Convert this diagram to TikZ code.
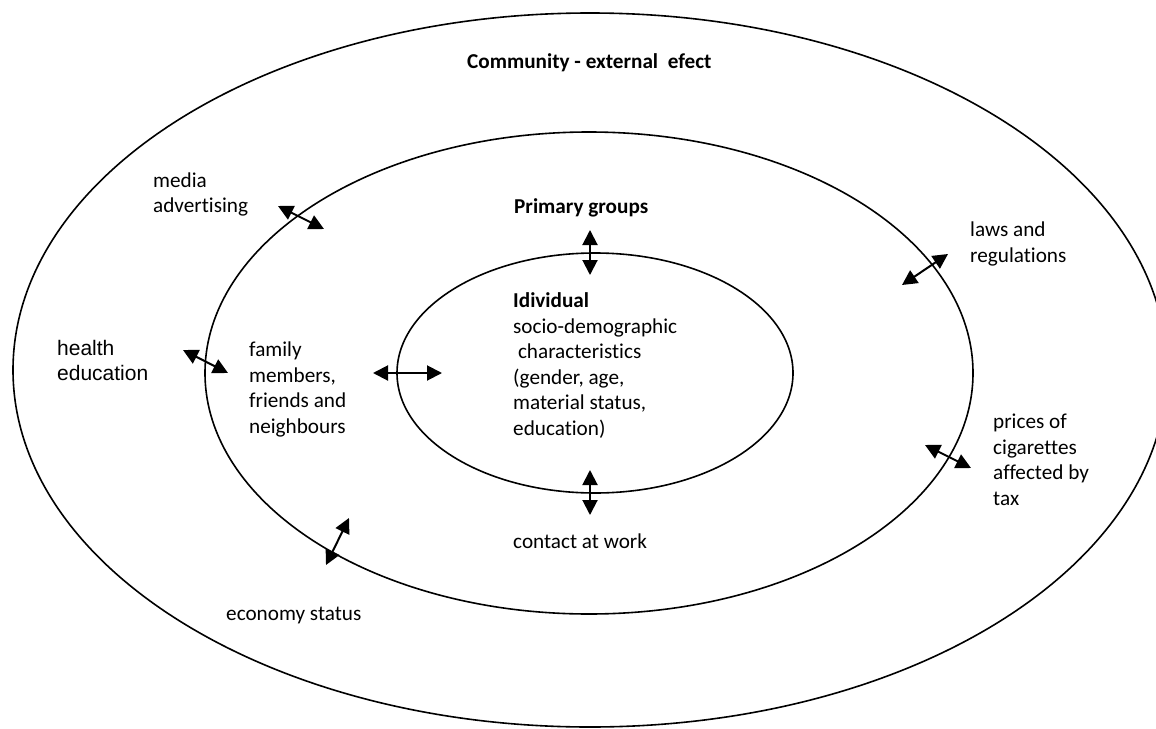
\documentclass[tikz,border=0pt]{standalone}
\usepackage{fontspec}
\setmainfont{Carlito}[Ligatures=NoCommon]
\newfontfamily\arialfont{Liberation Sans}
\usetikzlibrary{arrows.meta,shapes.geometric}
\begin{document}
\begin{tikzpicture}[x=1pt,y=-1pt,
  ring/.style={ellipse,draw,line width=1.6pt,inner sep=0pt},
  lbl/.style={anchor=base west,align=left,inner sep=0pt,font=\fontsize{21.2}{25.5}\selectfont},
  dbl/.style={{Triangle[length=15pt,width=15pt]}-{Triangle[length=15pt,width=15pt]},line width=2pt}]
\useasboundingbox (0,0) rectangle (1156,728);
% rings
\node[ring,minimum width=1154pt,minimum height=714pt] (outer) at (590,370) {};
\node[ring,minimum width=768pt,minimum height=482pt] (middle) at (589,373) {};
\node[ring,minimum width=396pt,minimum height=240pt] (inner) at (595,373) {};
% labels (anchor = baseline of the last line)
\node[lbl] (comm) at (467,68) {\bfseries Community - external\ \ efect};
\node[lbl] (media) at (153,212.5) {media\\advertising};
\node[lbl,font=\arialfont\fontsize{21}{25}\selectfont] (health) at (57,380) {health\\education};
\node[lbl] (family) at (249,433) {family\\members,\\friends and\\neighbours};
\node[lbl] (prim) at (514,213) {\bfseries Primary groups};
\node[lbl] (indiv) at (513,435) {\textbf{Idividual}\\socio-demographic\\\hspace*{4.8pt}characteristics\\(gender, age,\\material status,\\education)};
\node[lbl] (work) at (513,548) {contact at work};
\node[lbl] (laws) at (970,262) {laws and\\regulations};
\node[lbl] (prices) at (993,505) {prices of\\cigarettes\\affected by\\tax};
\node[lbl] (econ) at (226,620) {economy status};
% arrow end points
\coordinate (pt1) at (590,230); \coordinate (pt2) at (590,275);
\coordinate (wk1) at (590,470); \coordinate (wk2) at (590,515);
\coordinate (fm1) at (373,373); \coordinate (fm2) at (442,373);
\coordinate (md1) at (278,206); \coordinate (md2) at (324,229);
\coordinate (he1) at (183,350); \coordinate (he2) at (228,373);
\coordinate (lw1) at (902,285); \coordinate (lw2) at (948,254);
\coordinate (pr1) at (925,445); \coordinate (pr2) at (971,468);
\coordinate (ec1) at (326,565); \coordinate (ec2) at (349,518);
% arrows
\draw[dbl] (pt1) -- (pt2);
\draw[dbl] (wk1) -- (wk2);
\draw[dbl] (fm1) -- (fm2);
\draw[dbl] (md1) -- (md2);
\draw[dbl] (he1) -- (he2);
\draw[dbl] (lw1) -- (lw2);
\draw[dbl] (pr1) -- (pr2);
\draw[dbl] (ec1) -- (ec2);
\end{tikzpicture}
\end{document}
